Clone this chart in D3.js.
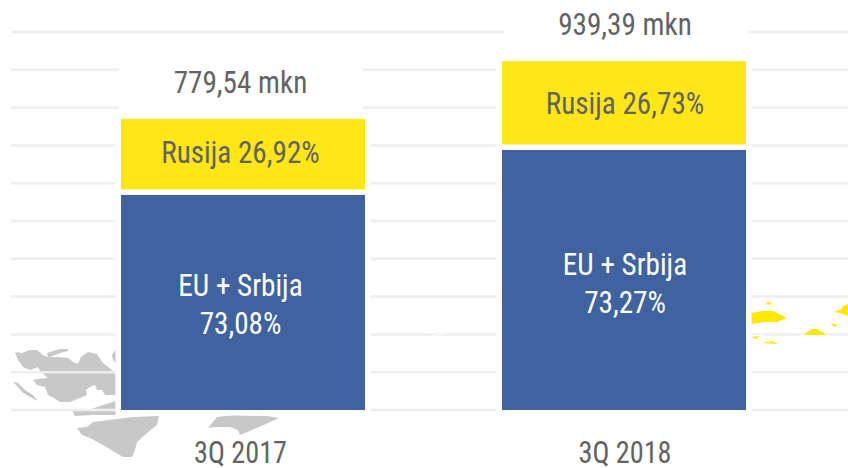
<!DOCTYPE html>
<html>
<head>
<meta charset="utf-8">
<script src="https://cdn.jsdelivr.net/npm/d3@7"></script>
<style>
	html, body { margin: 0; padding: 0; background: #fff; }
	text { font-family: Roboto, sans-serif; font-stretch: condensed; }
</style>
</head>
<body>
<div id="chart"></div>
<script>
const quarters = ['3Q 2017', '3Q 2018'];
const euValues = [569, 688];
const ruValues = [201, 235];
const euLabels = [['EU + Srbija', '73,08%'], ['EU + Srbija', '73,27%']];
const ruLabels = ['Rusija 26,92%', 'Rusija 26,73%'];
const totalLabels = ['779,54 mkn', '939,39 mkn'];
const gridTicks = d3.range(0, 1001, 100);

const WIDTH = 848;
const HEIGHT = 468;
const FONT_SIZE = 31;

const svg = d3.select('#chart')
	.append('svg')
		.attr('width', WIDTH)
		.attr('height', HEIGHT)
		.style('display', 'block');

const x = d3.scaleBand()
	.domain(quarters)
	.range([121, 746])
	.paddingInner(137 / 381)
	.paddingOuter(0);

const y = d3.scaleLinear()
	.domain([0, 1000])
	.range([410, 32]);

// map silhouette behind the chart, decoration only
const grayMap = [
	'M15,352 L22,353 L30,350 L37,350 L43,355 L48,357 L47,353 L60,349 L68,349 L68,351 L60,353 L50,357 L58,357 L68,358 L73,362 L78,364 L81,357 L88,352 L97,354 L103,363 L112,370 L116,373 L116,395 L105,395 L102,390 L97,390 L95,385 L90,387 L86,390 L87,395 L80,398 L70,402 L60,402 L52,397 L48,395 L45,387 L37,385 L33,380 L38,379 L48,378 L40,371 L38,367 L30,370 L23,367 L18,360 Z',
	'M13,382 L18,383 L25,390 L33,395 L38,401 L30,397 L22,392 L18,387 Z',
	'M72,410 L88,410 L116,401 L116,415 L92,415 L75,416 Z',
	'M77,428 L87,427 L93,422 L133,417 L159,416 L157,425 L147,433 L137,442 L135,450 L132,457 L123,457 L103,445 L90,438 L82,435 Z',
	'M208,428 L217,417 L233,415 L267,416 L279,418 L268,423 L252,430 L240,435 L238,430 L230,427 L217,427 Z',
	'M116,349 L112,355 L113,360 L116,363 Z'
];
const yellowMap = [
	'M751,313 L763,311 L773,311 L787,318 L777,322 L765,322 L751,324 Z',
	'M766,303 L769,302 L772,304 L768,305 Z',
	'M751,337 L760,336 L756,339 Z',
	'M762,343 L773,341 L778,344 Z',
	'M803,335 L812,329 L817,329 L827,335 Z',
	'M830,323 L838,325 L835,327 Z',
	'M834,312 L842,309 L843,306 L848,304 L848,316 L840,313 Z'
];
const whiteSliver = 'M418,338 L445,333 L447,334 L425,337 Z';

svg.append('g').selectAll('path')
	.data(grayMap)
	.join('path')
		.attr('d', d => d)
		.attr('fill', '#c8c8c8');

svg.append('g').selectAll('line')
	.data(gridTicks)
	.join('line')
		.attr('x1', 11)
		.attr('x2', WIDTH)
		.attr('y1', d => y(d))
		.attr('y2', d => y(d))
		.attr('stroke', '#eeeeee')
		.attr('stroke-width', 2.5);

svg.append('g').selectAll('path')
	.data(yellowMap)
	.join('path')
		.attr('d', d => d)
		.attr('fill', '#ffe800')
		.attr('stroke', '#fff')
		.attr('stroke-width', 3)
		.attr('paint-order', 'stroke');

svg.append('path')
	.attr('d', whiteSliver)
	.attr('fill', '#fff');

// white box that cuts the grid behind the total label
svg.append('g').selectAll('rect')
	.data(quarters)
	.join('rect')
		.attr('x', (d, i) => x(d) + (i ? 2 : -2))
		.attr('y', (d, i) => y(euValues[i] + ruValues[i]) - 52)
		.attr('width', x.bandwidth())
		.attr('height', 52)
		.attr('fill', '#fff');

// yellow first, the blue bar's white halo makes the gap between them
svg.append('g').selectAll('rect')
	.data(quarters)
	.join('rect')
		.attr('x', d => x(d))
		.attr('y', (d, i) => y(euValues[i] + ruValues[i]))
		.attr('width', x.bandwidth())
		.attr('height', (d, i) => y(euValues[i]) - y(euValues[i] + ruValues[i]))
		.attr('fill', '#ffe616')
		.attr('stroke', '#fff')
		.attr('stroke-width', 11)
		.attr('paint-order', 'stroke');

svg.append('g').selectAll('rect')
	.data(quarters)
	.join('rect')
		.attr('x', d => x(d))
		.attr('y', (d, i) => y(euValues[i]))
		.attr('width', x.bandwidth())
		.attr('height', (d, i) => y(0) - y(euValues[i]))
		.attr('fill', '#4063a0')
		.attr('stroke', '#fff')
		.attr('stroke-width', 11)
		.attr('paint-order', 'stroke');

// labels sit slightly off the bar centre in the original
const labelX = (d, i) => x(d) + x.bandwidth() / 2 + (i ? 1 : -2.5);

// tighten the condensed face a little to the original's text widths
function squeeze(selection, factor) {
	selection.each(function() {
		this.setAttribute('textLength', this.getComputedTextLength() * factor);
		this.setAttribute('lengthAdjust', 'spacingAndGlyphs');
	});
}

svg.append('g').selectAll('text')
	.data(quarters)
	.join('text')
		.attr('x', labelX)
		.attr('y', (d, i) => y(euValues[i] + ruValues[i]) - 26)
		.attr('text-anchor', 'middle')
		.attr('fill', '#636363')
		.attr('font-size', FONT_SIZE)
		.text((d, i) => totalLabels[i])
		.call(squeeze, 0.94);

svg.append('g').selectAll('text')
	.data(quarters)
	.join('text')
		.attr('x', labelX)
		.attr('y', (d, i) => (y(euValues[i] + ruValues[i]) + y(euValues[i])) / 2 + (i ? 8.5 : 6))
		.attr('text-anchor', 'middle')
		.attr('fill', '#636363')
		.attr('font-size', FONT_SIZE)
		.text((d, i) => ruLabels[i])
		.call(squeeze, 0.94);

svg.append('g').selectAll('text')
	.data(quarters)
	.join('text')
		.attr('x', labelX)
		.attr('y', (d, i) => (y(euValues[i]) + y(0)) / 2 + (i ? -5 : -6))
		.attr('text-anchor', 'middle')
		.attr('fill', '#fff')
		.attr('font-size', FONT_SIZE)
		.selectAll('tspan')
		.data((d, i) => euLabels[i].map(t => ({ t, cx: labelX(d, i) })))
		.join('tspan')
			.attr('x', d => d.cx)
			.attr('dy', (d, i) => i ? 38 : 0)
			.text(d => d.t)
			.call(squeeze, 0.94);

svg.append('g').selectAll('text')
	.data(quarters)
	.join('text')
		.attr('x', labelX)
		.attr('y', 463)
		.attr('text-anchor', 'middle')
		.attr('fill', '#636363')
		.attr('font-size', FONT_SIZE)
		.text(d => d)
		.call(squeeze, 0.91);
</script>
</body>
</html>
